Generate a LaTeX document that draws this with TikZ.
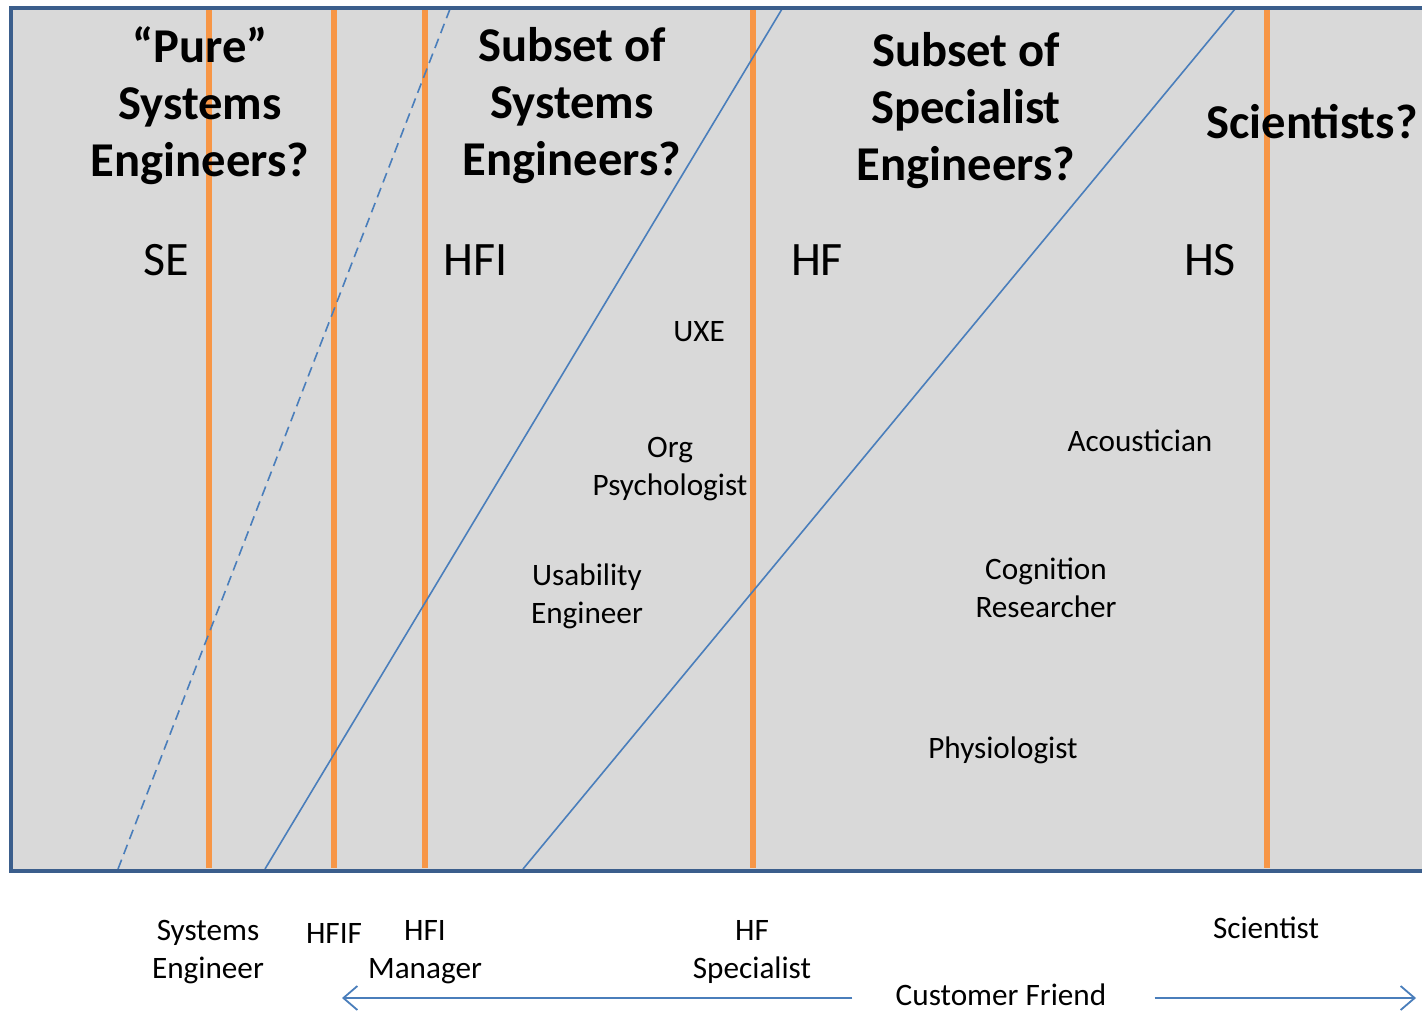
\documentclass[tikz,border=0pt]{standalone}
\usepackage{fontspec}
\setmainfont{Carlito}
\usetikzlibrary{arrows.meta}
\definecolor{panel}{HTML}{D9D9D9}
\definecolor{frameblue}{HTML}{3B5E8C}
\definecolor{lineblue}{HTML}{4A7EBB}
\definecolor{bandorange}{HTML}{F79646}
\tikzset{
  heading/.style={align=center, font=\bfseries\fontsize{24.3}{28.5}\selectfont},
  zonelabel/.style={font=\fontsize{24}{28.5}\selectfont},
  role/.style={align=center, font=\fontsize{15.6}{19}\selectfont},
  divider/.style={bandorange, line width=3pt},
  slant/.style={lineblue, line width=0.8pt},
  spread/.style={lineblue, line width=0.9pt, -{Straight Barb[length=7pt, width=12pt, line width=0.9pt]}}
}
\begin{document}
\begin{tikzpicture}[x=0.5pt, y=-0.5pt]
\useasboundingbox (0,0) rectangle (1422,1011);
\fill[panel] (11,8) rectangle (1440,871);
\foreach \xpos in {209,334,425,753,1267}
  \draw[divider] (\xpos,10) -- (\xpos,868);
\draw[slant, dash pattern=on 5pt off 3pt] (118,869) -- (450,9);
\draw[slant] (265,869) -- (782,9);
\draw[slant] (523,869) -- (1235,9);
\draw[frameblue, line width=2pt] (1440,8) -- (11,8) -- (11,871) -- (1440,871);

\node[heading] (pure) at (200,106) {``Pure''\\Systems\\Engineers?};
\node[heading] (subsys) at (572,106) {Subset of\\Systems\\Engineers?};
\node[heading] (subspec) at (966,111) {Subset of\\Specialist\\Engineers?};
\node[heading] (sci) at (1312,122) {Scientists?};

\node[zonelabel] (se) at (166,260) {SE};
\node[zonelabel] (hfi) at (476,260) {HFI};
\node[zonelabel] (hf) at (817,260) {HF};
\node[zonelabel] (hs) at (1210,260) {HS};

\node[role] (uxe) at (699,332) {UXE};
\node[role] (orgpsy) at (670,469) {Org\\Psychologist};
\node[role] (usab) at (587,596) {Usability\\Engineer};
\node[role] (acoust) at (1140,441) {Acoustician};
\node[role] (cogres) at (1046,588) {Cognition\\Researcher};
\node[role] (physio) at (1003,750) {Physiologist};

\node[role] (syseng) at (208,952) {Systems\\Engineer};
\node[role] (hfif) at (334,933) {HFIF};
\node[role] (hfimgr) at (425,952) {HFI\\Manager};
\node[role] (hfspec) at (752,952) {HF\\Specialist};
\node[role] (scientist) at (1266,928) {Scientist};

\node[role, inner sep=0pt] (custfriend) at (1001,995) {Customer Friend};
\coordinate (leftend) at (342,998);
\coordinate (rightend) at (1416,998);
\draw[spread] (custfriend.west |- leftend) ++(-43,0) -- (leftend);
\draw[spread] (custfriend.east |- rightend) ++(48,0) -- (rightend);
\end{tikzpicture}
\end{document}
